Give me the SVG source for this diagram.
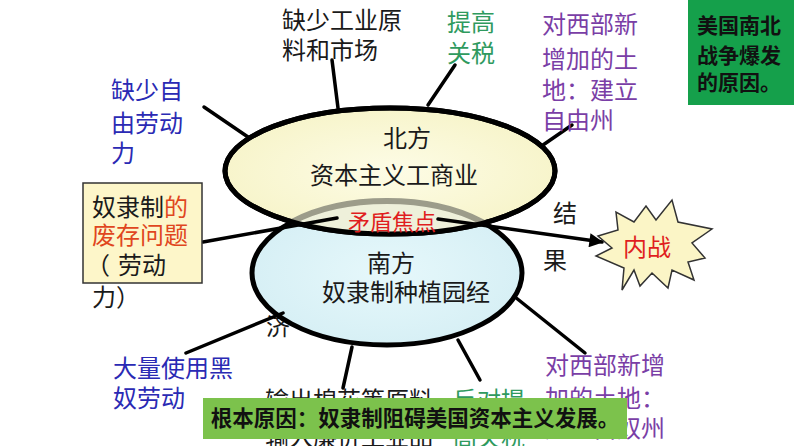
<svg xmlns="http://www.w3.org/2000/svg" width="794" height="446" viewBox="0 0 794 446">
<style>
text{font-family:"Noto Sans CJK SC","Liberation Sans",sans-serif;}
.t{font-size:24px;fill:#1a1a1a;}
.blue{fill:#2a2ab4;}
.green{fill:#2f9a5e;}
.purple{fill:#7a3ea6;}
.red{fill:#e01e1e;}
.orange{fill:#e0461e;}
.bold{font-weight:bold;fill:#111;}
.ln{stroke:#000;stroke-width:3.5;fill:none;stroke-linecap:round;}
.ell{stroke:#000;stroke-width:5;}
</style>
<defs>
<radialGradient id="gN" cx="50%" cy="50%" r="60%">
<stop offset="0" stop-color="#fdfce6"/>
<stop offset="1" stop-color="#f6f3c6"/>
</radialGradient>
<radialGradient id="gS" cx="50%" cy="50%" r="60%">
<stop offset="0" stop-color="#e6f8fb"/>
<stop offset="1" stop-color="#d4eef4"/>
</radialGradient>
<clipPath id="clipN"><ellipse cx="390" cy="171" rx="165" ry="63"/></clipPath>
<marker id="arr" viewBox="0 0 10 10" refX="9" refY="5" markerWidth="5" markerHeight="4" orient="auto" markerUnits="strokeWidth">
<path d="M0,0 L10,5 L0,10 z" fill="#000"/>
</marker>
</defs>
<rect width="794" height="446" fill="#fff"/>

<!-- text partly covered by the south ellipse -->
<text class="t" x="266" y="335" font-size="22">济</text>

<g id="south">
<ellipse class="ell" cx="387" cy="273" rx="135" ry="72" fill="url(#gS)"/>
</g>
<g id="north">
<ellipse class="ell" cx="390" cy="171" rx="165" ry="63" fill="url(#gN)"/>
<g clip-path="url(#clipN)">
<ellipse cx="387" cy="273" rx="135" ry="72" fill="#eef0da" stroke="#9c9c8a" stroke-width="6"/>
</g>
<ellipse cx="390" cy="171" rx="165" ry="63" fill="none" stroke="#000" stroke-width="5"/>
<text class="t" x="407" y="147" font-size="25" text-anchor="middle">北方</text>
<text class="t" x="394" y="184" font-size="25" text-anchor="middle">资本主义工商业</text>
</g>
<g id="southText">
<text class="t" x="391" y="272" font-size="25" text-anchor="middle">南方</text>
<text class="t" x="406" y="301" font-size="25" text-anchor="middle">奴隶制种植园经</text>
</g>
<g id="focus">
<text class="red" x="392" y="230" font-size="22" text-anchor="middle">矛盾焦点</text>
</g>

<g id="connectors">
<line class="ln" x1="204" y1="107" x2="248" y2="137"/>
<line class="ln" x1="332" y1="60" x2="338" y2="108"/>
<line class="ln" x1="455" y1="65" x2="428" y2="105"/>
<line class="ln" x1="572" y1="125" x2="543" y2="145"/>
<line class="ln" x1="203" y1="242" x2="337" y2="218"/>
<line class="ln" x1="438" y1="219" x2="602" y2="242" marker-end="url(#arr)"/>
<line class="ln" x1="186" y1="353" x2="283" y2="313"/>
<line class="ln" x1="352" y1="347" x2="343" y2="388"/>
<line class="ln" x1="458" y1="340" x2="480" y2="380"/>
<line class="ln" x1="515" y1="297" x2="585" y2="353"/>
</g>

<g id="n-industry">
<text class="t" x="282" y="29">缺少工业原</text>
<text class="t" x="282" y="59">料和市场</text>
</g>
<g id="n-tariff">
<text class="t green" x="447" y="31">提高</text>
<text class="t green" x="447" y="62">关税</text>
</g>
<g id="n-westN">
<text class="t purple" x="542" y="33">对西部新</text>
<text class="t purple" x="542" y="68">增加的土</text>
<text class="t purple" x="542" y="99">地：建立</text>
<text class="t purple" x="542" y="129">自由州</text>
</g>
<g id="n-title">
<rect x="688" y="0" width="106" height="105" fill="#15a04b"/>
<text class="bold" x="697" y="33" font-size="21">美国南北</text>
<text class="bold" x="697" y="63" font-size="21">战争爆发</text>
<text class="bold" x="697" y="90" font-size="21">的原因。</text>
</g>
<g id="n-labor">
<text class="t blue" x="111" y="99">缺少自</text>
<text class="t blue" x="111" y="132">由劳动</text>
<text class="t blue" x="111" y="162">力</text>
</g>
<g id="n-slavery">
<rect x="83" y="183" width="119" height="100" fill="#fdf6c9" stroke="#333" stroke-width="1.5"/>
<text class="t" x="92" y="216">奴隶制<tspan class="orange">的</tspan></text>
<text class="t orange" x="92" y="244">废存问题</text>
<text class="t" y="274"><tspan x="86">（</tspan><tspan x="118">劳动</tspan></text>
<text class="t" x="92" y="306">力）</text>
</g>
<g id="n-result">
<text class="t" x="553" y="222">结</text>
<text class="t" x="543" y="269">果</text>
</g>
<g id="n-war">
<polygon points="598,236 618,230 616,212 634,222 646,206 656,220 672,200 678,222 712,229 692,243 705,258 688,262 694,280 672,270 668,288 652,273 640,286 634,270 622,290 624,268 596,256 612,248" fill="#fbf5c6" stroke="#333" stroke-width="1.5"/>
<text class="red" x="647" y="256" font-size="24" text-anchor="middle">内战</text>
</g>
<g id="n-blacks">
<text class="t blue" x="113" y="377">大量使用黑</text>
<text class="t blue" x="113" y="407">奴劳动</text>
</g>
<g id="n-export">
<text class="t" x="265" y="409">输出棉花等原料</text>
<text class="t" x="265" y="446">输入廉价工业品</text>
</g>
<g id="n-antitariff">
<text class="t green" x="453" y="409">反对提</text>
<text class="t green" x="453" y="446">高关税</text>
</g>
<g id="n-westS">
<text class="t purple" x="545" y="374" font-size="25">对西部新增</text>
<text class="t purple" x="545" y="407" font-size="25">加的土地：</text>
<text class="t purple" x="545" y="437" font-size="25">建立蓄奴州</text>
</g>
<g id="n-root">
<rect x="203" y="398" width="424" height="41" fill="#7cc24c"/>
<text class="bold" x="415" y="426" font-size="21.5" text-anchor="middle">根本原因：奴隶制阻碍美国资本主义发展。</text>
</g>
</svg>
